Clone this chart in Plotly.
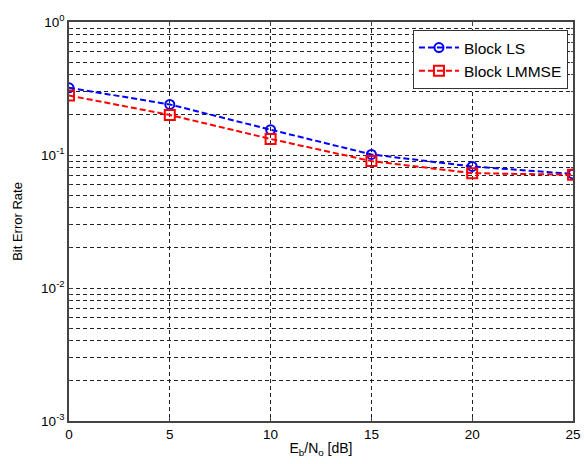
import plotly.graph_objects as go

snr_db = [0, 5, 10, 15, 20, 25]
ber_ls = [0.32, 0.24, 0.155, 0.101, 0.082, 0.072]
ber_lmmse = [0.28, 0.20, 0.132, 0.090, 0.073, 0.071]
y_tick_vals = [1e-3, 1e-2, 1e-1, 1]
y_tick_text = ["10<sup>-3</sup>", "10<sup>-2</sup>", "10<sup>-1</sup>", "10<sup>0</sup>"]
x_tick_vals = [0, 5, 10, 15, 20, 25]

minor_vals = [m * 10.0 ** e for e in (-3, -2, -1) for m in range(2, 10)]

fig = go.Figure()
fig.add_trace(go.Scatter(
    x=snr_db, y=ber_ls, name="Block LS", mode="lines+markers",
    line=dict(color="#0000ff", width=2, dash="6px,3px"),
    marker=dict(symbol="circle-open", size=9, color="#0000ff", line=dict(width=2)),
))
fig.add_trace(go.Scatter(
    x=snr_db, y=ber_lmmse, name="Block LMMSE", mode="lines+markers",
    line=dict(color="#ff0000", width=2, dash="6px,3px"),
    marker=dict(symbol="square-open", size=10, color="#ff0000", line=dict(width=2)),
))

fam = "Liberation Sans, Arial, sans-serif"
font = dict(family=fam, size=13.5, color="#000000")
grid_dash = "4px,3px"

fig.update_layout(
    width=584, height=464,
    margin=dict(l=69, r=11, t=22, b=43),
    paper_bgcolor="white", plot_bgcolor="white",
    font=font,
    showlegend=True,
    legend=dict(
        x=0.99, y=0.98, xanchor="right", yanchor="top",
        bgcolor="white", bordercolor="#333333", borderwidth=1,
        font=dict(family=fam, size=15.5),
        itemwidth=40, tracegroupgap=0,
    ),
    xaxis=dict(
        range=[0, 25], tickvals=x_tick_vals, ticks="inside", ticklen=4,
        showline=True, mirror="ticks", linecolor="#444444", linewidth=1.5,
        showgrid=True, gridcolor="#222222", griddash=grid_dash, gridwidth=1,
        zeroline=False, automargin=False,
        tickfont=dict(size=13.5),
        title=dict(text="E<sub>b</sub>/N<sub>o</sub> [dB]", standoff=2, font=dict(size=14)),
    ),
    yaxis=dict(
        type="log", range=[-3, 0], tickvals=y_tick_vals, ticktext=y_tick_text,
        ticks="inside", ticklen=4,
        showline=True, mirror="ticks", linecolor="#444444", linewidth=1.5,
        showgrid=True, gridcolor="#222222", griddash=grid_dash, gridwidth=1,
        zeroline=False, automargin=False,
        tickfont=dict(size=13.5),
        minor=dict(tickvals=minor_vals, showgrid=True, gridcolor="#222222",
                   griddash=grid_dash, gridwidth=1, ticks="inside", ticklen=2),
        title=dict(text="Bit Error Rate", standoff=16, font=dict(size=13)),
    ),
)

fig.write_html("out.html")
